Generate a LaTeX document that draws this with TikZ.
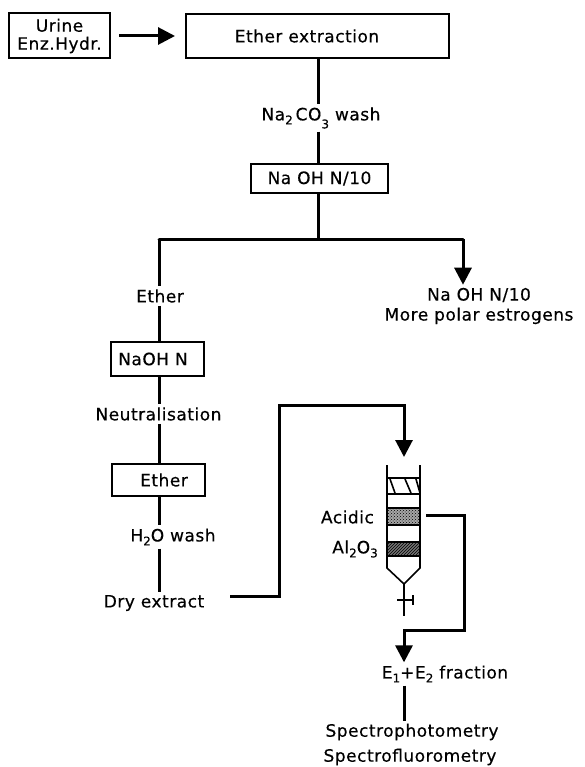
\documentclass[tikz,border=0pt]{standalone}
\usepackage{fontspec}
\setmainfont[LetterSpace=3,FakeBold=0.4]{DejaVu Sans}
\usetikzlibrary{arrows.meta,positioning,patterns}
\newcommand{\lowsub}[2][4pt]{\raisebox{-#1}{\fontsize{12}{12}\selectfont #2}}

\begin{document}
\begin{tikzpicture}[
    x=1pt, y=-1pt,
    >={Triangle[length=17pt,width=17pt]},
    box/.style={draw, line width=2pt, align=center, inner sep=0pt, font=\fontsize{17}{18}\selectfont},
    label/.style={align=center, inner sep=3pt, font=\fontsize{17}{20}\selectfont},
    line/.style={line width=3pt},
    wall/.style={line width=1.6pt},
    band/.style={line width=2.4pt}
]
\useasboundingbox (0,0) rectangle (585,767);

% Top row and main stem.
\node[box, minimum width=101pt, minimum height=45pt] (urine) at (59.5,36) {Urine\\Enz.Hydr.};
\node[box, minimum width=263pt, minimum height=44pt] (extraction) at (317.5,36) {Ether extraction\hspace*{21pt}};
\node[label] (carbonate) at (321,118) {Na\lowsub{2}\,CO\lowsub[8pt]{3} wash};
\node[box, minimum width=137pt, minimum height=29pt] (soda) at (319.5,178.5) {Na OH N/10};

% Split after the soda wash.
\coordinate (stem) at (318,239);
\coordinate (spine) at (159,239);
\coordinate (forkright) at (463,239);
\node[label] (polar) at (479,306) {Na OH N/10\\More polar estrogens};

% Left branch, stacked.
\node[label] (ether) at (160,296) {Ether};
\node[box, minimum width=93pt, minimum height=34pt] (sodaN) at (157.5,359) {NaOH N\hspace*{9pt}};
\node[label] (neutral) at (158.5,414) {Neutralisation};
\node[box, minimum width=93pt, minimum height=32pt] (etherbox) at (158.5,480) {\hspace*{11pt}Ether};
\node[label] (water) at (173,537) {H\lowsub{2}O wash};
\node[label] (dry) at (154,603) {Dry extract};

% Bends of the long routes.
\coordinate (dryend) at (230,596);
\coordinate (dryup) at (279,596);
\coordinate (drytop) at (279,405);
\coordinate (coltop) at (404,405);
\coordinate (colin) at (404,457);
\coordinate (outstart) at (426,515);
\coordinate (outright) at (464,515);
\coordinate (outlow) at (464,630);
\coordinate (outleft) at (404,630);

% Column.
\fill[black!35] (387,508) rectangle (420,525);
\fill[pattern=crosshatch dots] (387,508) rectangle (420,525);
\fill[black!55] (387,542) rectangle (420,556);
\fill[pattern=north east lines] (387,542) rectangle (420,556);
\foreach \xa/\xb in {390/395,405/411,416/420} {
    \draw[wall] (\xa,479) -- (\xb,493);
}
\draw[wall] (387,465) -- (387,568) -- (404,584) -- (420,568) -- (420,465);
\foreach \y in {478,494,508,525,542,556} {
    \draw[band] (387,\y) -- (420,\y);
}
\draw[wall] (404,584) -- (404,616);
\draw[wall] (397,600) -- (413,600);
\draw[wall] (413,595) -- (413,605);
\node[label, anchor=east] (acidic) at (377,517) {Acidic};
\node[label, anchor=east] (alumina) at (381,549) {Al\lowsub{2}O\lowsub{3}};

% Products.
\node[label] (fraction) at (445,674) {E\lowsub{1}+E\lowsub{2} fraction};
\node[label] (photo) at (412,732) {Spectrophotometry};
\node[label] (fluoro) at (410,757) {Spectrofluorometry};

% Main arrows.
\draw[line, ->] (urine.east) ++(8,0) -- (175,36);
\draw[line] (extraction.south -| stem) -- (carbonate.north -| stem);
\draw[line] (carbonate.south -| stem) -- (soda.north -| stem);
\draw[line] (soda.south -| stem) -- (stem);
\draw[line, line cap=round] (spine) -- (forkright);
\draw[line] (spine) -- (ether.north -| spine);
\draw[line, ->] (forkright) -- (polar.north -| forkright);
\draw[line] (ether.south -| spine) -- (sodaN.north -| spine);
\draw[line] (sodaN.south -| spine) -- (neutral.north -| spine);
\draw[line] (neutral.south -| spine) -- (etherbox.north -| spine);
\draw[line] (etherbox.south -| spine) -- (water.north -| spine);
\draw[line] (water.south -| spine) -- (dry.north -| spine);
\draw[line, ->] (dryend) -- (dryup) -- (drytop) -- (coltop) -- (colin);
\draw[line, ->] (outstart) -- (outright) -- (outlow) -- (outleft) -- (fraction.north -| outleft);
\draw[line] (fraction.south -| outleft) -- (photo.north -| outleft);
\end{tikzpicture}
\end{document}
